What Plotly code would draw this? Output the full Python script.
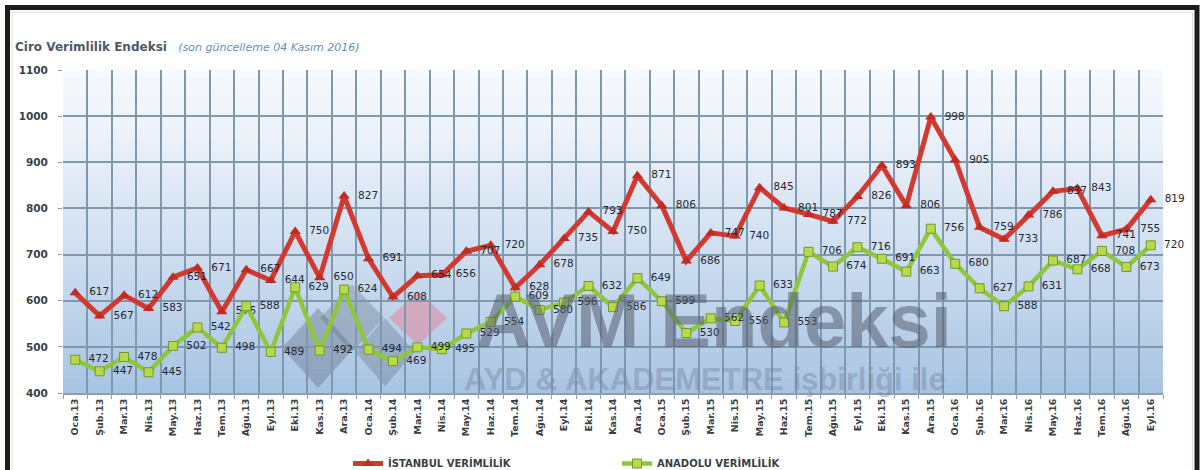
import plotly.graph_objects as go

months = ["Oca.13", "Şub.13", "Mar.13", "Nis.13", "May.13", "Haz.13", "Tem.13", "Ağu.13", "Eyl.13", "Eki.13", "Kas.13", "Ara.13",
          "Oca.14", "Şub.14", "Mar.14", "Nis.14", "May.14", "Haz.14", "Tem.14", "Ağu.14", "Eyl.14", "Eki.14", "Kas.14", "Ara.14",
          "Oca.15", "Şub.15", "Mar.15", "Nis.15", "May.15", "Haz.15", "Tem.15", "Ağu.15", "Eyl.15", "Eki.15", "Kas.15", "Ara.15",
          "Oca.16", "Şub.16", "Mar.16", "Nis.16", "May.16", "Haz.16", "Tem.16", "Ağu.16", "Eyl.16"]

istanbul = [617, 567, 612, 583, 651, 671, 576, 667, 644, 750, 650, 827,
            691, 608, 654, 656, 707, 720, 628, 678, 735, 793, 750, 871,
            806, 686, 747, 740, 845, 801, 787, 772, 826, 893, 806, 998,
            905, 759, 733, 786, 837, 843, 741, 755, 819]

anadolu = [472, 447, 478, 445, 502, 542, 498, 588, 489, 629, 492, 624,
           494, 469, 499, 495, 529, 554, 609, 580, 596, 632, 586, 649,
           599, 530, 562, 556, 633, 553, 706, 674, 716, 691, 663, 756,
           680, 627, 588, 631, 687, 668, 708, 673, 720]

W, H = 1202, 470
L, R, T, B = 63, 1163, 70, 393


def px(x):
    return (x - L) / (R - L)


def py(y):
    return (B - y) / (B - T)


fig = go.Figure()

label_font = dict(family="DejaVu Sans", size=10.5, color="#1e2833")

fig.add_trace(go.Scatter(
    x=months, y=istanbul, name="İSTANBUL VERİMLİLİK",
    mode="lines+markers+text",
    line=dict(color="#d23a31", width=5),
    marker=dict(symbol="triangle-up", size=10, color="#c02c24"),
    text=[str(v) for v in istanbul], texttemplate="  %{text}",
    textposition="middle right", textfont=label_font, cliponaxis=False,
))
fig.add_trace(go.Scatter(
    x=months, y=anadolu, name="ANADOLU VERİMLİLİK",
    mode="lines+markers+text",
    line=dict(color="#8fc63c", width=4.5),
    marker=dict(symbol="square", size=9, color="#b9d94a", line=dict(color="#6f9a2a", width=1)),
    text=[str(v) for v in anadolu], texttemplate="  %{text}",
    textposition="middle right", textfont=label_font, cliponaxis=False,
))

shapes = []
# gradient plot background
N = 40
top = (246, 249, 253)
bot = (168, 195, 227)
for i in range(N):
    t = (i + 0.5) / N  # 0 bottom .. 1 top
    f = (1 - t) ** 1.2
    c = tuple(int(round(top[k] + (bot[k] - top[k]) * f)) for k in range(3))
    shapes.append(dict(type="rect", xref="x domain", yref="y domain",
                       x0=0, x1=1, y0=i / N, y1=(i + 1) / N + 0.002,
                       fillcolor="rgb(%d,%d,%d)" % c, line=dict(width=0), layer="below"))


def diamond(cx, cy, rx, ry, color):
    path = "M %f %f L %f %f L %f %f L %f %f Z" % (
        px(cx), py(cy - ry), px(cx + rx), py(cy), px(cx), py(cy + ry), px(cx - rx), py(cy))
    return dict(type="path", xref="paper", yref="paper", path=path,
                fillcolor=color, line=dict(width=0), layer="between")


shapes.append(diamond(318, 348, 36, 40, "rgba(90,100,120,0.35)"))
shapes.append(diamond(352, 318, 32, 34, "rgba(90,100,120,0.30)"))
shapes.append(diamond(385, 352, 30, 34, "rgba(90,100,120,0.30)"))
shapes.append(diamond(418, 318, 29, 27, "rgba(235,120,140,0.45)"))

# outer frame
shapes.append(dict(type="rect", xref="paper", yref="paper",
                   x0=px(7.5), x1=px(1197), y0=py(490), y1=py(7.5),
                   line=dict(color="#1c1c1c", width=5), fillcolor="rgba(0,0,0,0)", layer="above"))
shapes.append(dict(type="rect", xref="paper", yref="paper",
                   x0=px(12), x1=px(1192.5), y0=py(490), y1=py(12),
                   line=dict(color="#ead8d0", width=1), fillcolor="rgba(0,0,0,0)", layer="above"))

annotations = [
    dict(text="<b>AVM Endeksi</b>", xref="paper", yref="paper", x=px(714), y=py(320),
         showarrow=False, font=dict(family="Liberation Sans", size=76, color="rgba(85,95,112,0.55)"),
         xanchor="center", yanchor="middle"),
    dict(text="<b>AYD &amp; AKADEMETRE işbirliği ile</b>", xref="paper", yref="paper", x=px(705), y=py(379),
         showarrow=False, font=dict(family="Liberation Sans", size=31, color="rgba(120,135,158,0.45)"),
         xanchor="center", yanchor="middle"),
]

fig.update_layout(
    width=W, height=H,
    margin=dict(l=L, r=W - R, t=T, b=H - B, autoexpand=False),
    paper_bgcolor="white", plot_bgcolor="rgba(0,0,0,0)",
    title=dict(
        text="<b>Ciro Verimlilik Endeksi</b>   <i><span style='color:#6b8db5;font-size:11px'>(son güncelleme 04 Kasım 2016)</span></i>",
        xref="container", yref="container", x=15 / W, y=1 - 47 / H,
        xanchor="left", yanchor="middle",
        font=dict(family="DejaVu Sans", size=12, color="#4d5966"),
    ),
    xaxis=dict(
        type="category", tickson="boundaries", showgrid=True,
        gridcolor="#7f98ae", gridwidth=1.5,
        tickangle=-90, ticks="outside", ticklen=4, tickcolor="#8aa0b4",
        tickfont=dict(family="DejaVu Sans", size=9.5, color="#3a3f46", weight="bold"),
        showline=True, linecolor="#8aa0b4", linewidth=1.5,
        range=[-0.5, len(months) - 0.5],
    ),
    yaxis=dict(
        range=[400, 1100], dtick=100, showgrid=True,
        gridcolor="#7f98ae", gridwidth=1.5,
        ticks="outside", ticklen=4, tickcolor="#8aa0b4",
        tickfont=dict(family="DejaVu Sans", size=10.5, color="#3a3f46", weight="bold"),
        ticklabelstandoff=8, zeroline=False,
    ),
    legend=dict(
        orientation="h", x=px(348), y=py(449), xanchor="left", yanchor="top",
        font=dict(family="DejaVu Sans", size=10, color="#3a3f46", weight="bold"),
        entrywidth=224, entrywidthmode="pixels", bgcolor="rgba(0,0,0,0)",
    ),
    shapes=shapes, annotations=annotations,
)

fig.write_html("out.html", config={"displayModeBar": False},
               post_script="document.body.style.margin='0';")
